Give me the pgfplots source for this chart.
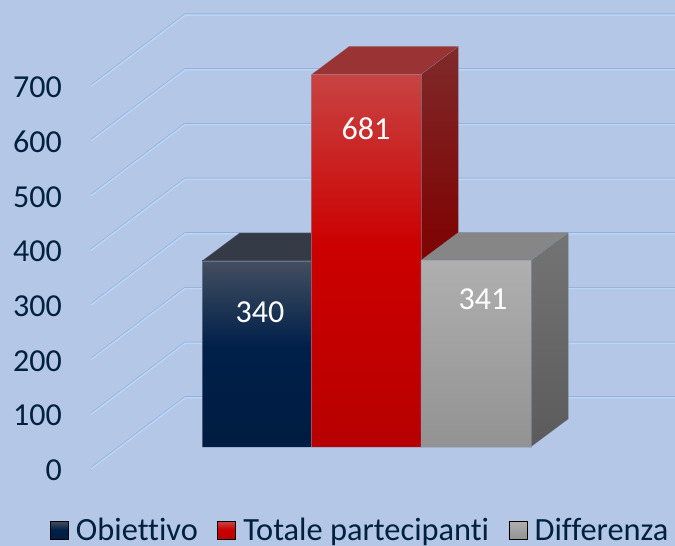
\documentclass[border=0pt]{standalone}
\usepackage{fontspec}
\setmainfont{Carlito}[Ligatures=CommonOff]
\usepackage{pgfplots}
\pgfplotsset{compat=1.18}
\definecolor{bg}{HTML}{B4C7E7}
\definecolor{ink}{HTML}{002040}
\definecolor{gdark}{HTML}{9AB0D2}
\definecolor{glight}{HTML}{B8D6FA}
\definecolor{edge}{HTML}{8A9BB5}
\definecolor{bA}{HTML}{001C40}\definecolor{bB}{HTML}{00204A}\definecolor{bC}{HTML}{434E60}
\definecolor{rA}{HTML}{B80000}\definecolor{rB}{HTML}{CC0000}\definecolor{rC}{HTML}{C94343}
\definecolor{gA}{HTML}{929292}\definecolor{gC}{HTML}{AFAFAF}
\definecolor{rsA}{HTML}{7A0000}\definecolor{rsB}{HTML}{7F0606}\definecolor{rsC}{HTML}{7F2A2A}
\definecolor{gsA}{HTML}{5B5B5B}\definecolor{gsC}{HTML}{747474}
\definecolor{btop}{HTML}{353A47}\definecolor{rtop}{HTML}{9A3333}\definecolor{gtop}{HTML}{868686}
\pgfdeclareverticalshading{bluefront}{100bp}{color(0bp)=(bA);color(25bp)=(bA);color(52bp)=(bB);color(75bp)=(bC);color(100bp)=(bC)}
\pgfdeclareverticalshading{redfront}{100bp}{color(0bp)=(rA);color(25bp)=(rA);color(52bp)=(rB);color(75bp)=(rC);color(100bp)=(rC)}
\pgfdeclareverticalshading{greyfront}{100bp}{color(0bp)=(gA);color(25bp)=(gA);color(75bp)=(gC);color(100bp)=(gC)}
\pgfdeclareverticalshading{redside}{100bp}{color(0bp)=(rsA);color(25bp)=(rsA);color(52bp)=(rsB);color(75bp)=(rsC);color(100bp)=(rsC)}
\pgfdeclareverticalshading{greyside}{100bp}{color(0bp)=(gsA);color(25bp)=(gsA);color(75bp)=(gsC);color(100bp)=(gsC)}
\pgfplotsset{
  wall/.style={draw=gdark,line width=1.1pt,yshift=0.7pt,forget plot},
  walltop/.style={draw=glight,line width=1.5pt,yshift=-0.5pt,forget plot},
  face/.style={draw=edge,draw opacity=0.5,line width=0.3pt,forget plot,yshift=21.6pt},
}
\begin{document}
\begin{tikzpicture}
\begin{axis}[
  scale only axis,width=675pt,height=546pt,
  xmin=0,xmax=675,ymin=-141.5,ymax=856.7,
  axis background/.style={fill=bg},
  axis line style={draw=none},
  xtick=\empty,
  ytick={0,100,200,300,400,500,600,700},
  major tick length=0pt,
  yticklabel style={anchor=east,xshift=62pt,yshift=-1.7pt,inner sep=0pt,text=ink,font=\fontsize{32}{36}\selectfont},
  /pgf/number format/assume math mode=true,
  legend style={at={(axis cs:50,-113)},anchor=west,draw=none,fill=none,inner sep=0pt,outer sep=0pt,
    font=\fontsize{32.4}{36}\selectfont\color{ink},legend columns=-1,
    /tikz/every odd column/.append style={column sep=5.5pt},
    /tikz/every even column/.append style={column sep=17.5pt}},
]
% wall grid lines
\addplot[wall] coordinates {(91,0)(185,129.8)(680,129.8)};
\addplot[wall] coordinates {(91,100)(185,229.8)(680,229.8)};
\addplot[wall] coordinates {(91,200)(185,329.8)(680,329.8)};
\addplot[wall] coordinates {(91,300)(185,429.8)(680,429.8)};
\addplot[wall] coordinates {(91,400)(185,529.8)(680,529.8)};
\addplot[wall] coordinates {(91,500)(185,629.8)(680,629.8)};
\addplot[wall] coordinates {(91,600)(185,729.8)(680,729.8)};
\addplot[wall] coordinates {(91,700)(185,829.8)(680,829.8)};
\addplot[walltop] coordinates {(91,0)(185,129.8)(680,129.8)};
\addplot[walltop] coordinates {(91,100)(185,229.8)(680,229.8)};
\addplot[walltop] coordinates {(91,200)(185,329.8)(680,329.8)};
\addplot[walltop] coordinates {(91,300)(185,429.8)(680,429.8)};
\addplot[walltop] coordinates {(91,400)(185,529.8)(680,529.8)};
\addplot[walltop] coordinates {(91,500)(185,629.8)(680,629.8)};
\addplot[walltop] coordinates {(91,600)(185,729.8)(680,729.8)};
\addplot[walltop] coordinates {(91,700)(185,829.8)(680,829.8)};
% Obiettivo = 340
\addplot[face,fill=btop] coordinates {(202,340)(239.5,391.2)(349,391.2)(311.5,340)(202,340)};
\addplot[face,shade,shading=bluefront] coordinates {(202,0)(311.5,0)(311.5,340)(202,340)(202,0)};
% Totale partecipanti = 681
\addplot[face,fill=rtop] coordinates {(311.5,681)(349,732.2)(458.5,732.2)(421,681)(311.5,681)};
\addplot[face,shade,shading=redside] coordinates {(421,0)(458.5,51.2)(458.5,732.2)(421,681)(421,0)};
\addplot[face,shade,shading=redfront] coordinates {(311.5,0)(421,0)(421,681)(311.5,681)(311.5,0)};
% Differenza = 341
\addplot[face,fill=gtop] coordinates {(421,341)(458.5,392.2)(568.5,392.2)(531,341)(421,341)};
\addplot[face,shade,shading=greyside] coordinates {(531,0)(568.5,51.2)(568.5,392.2)(531,341)(531,0)};
\addplot[face,shade,shading=greyfront] coordinates {(421,0)(531,0)(531,341)(421,341)(421,0)};
\addlegendimage{legend image code/.code={\path[shade,shading=bluefront] (0pt,-9pt) rectangle (18pt,9pt);}}
\addlegendentry{Obiettivo}
\addlegendimage{legend image code/.code={\path[shade,shading=redfront] (0pt,-9pt) rectangle (18pt,9pt);}}
\addlegendentry{Totale partecipanti}
\addlegendimage{legend image code/.code={\path[shade,shading=greyfront] (0pt,-9pt) rectangle (18pt,9pt);}}
\addlegendentry{Differenza}
\node[white,font=\fontsize{32}{36}\selectfont] at (axis cs:260,286.3) {340};
\node[white,font=\fontsize{32}{36}\selectfont] at (axis cs:366,621) {681};
\node[white,font=\fontsize{32}{36}\selectfont] at (axis cs:483,309) {341};
\end{axis}
\end{tikzpicture}
\end{document}
